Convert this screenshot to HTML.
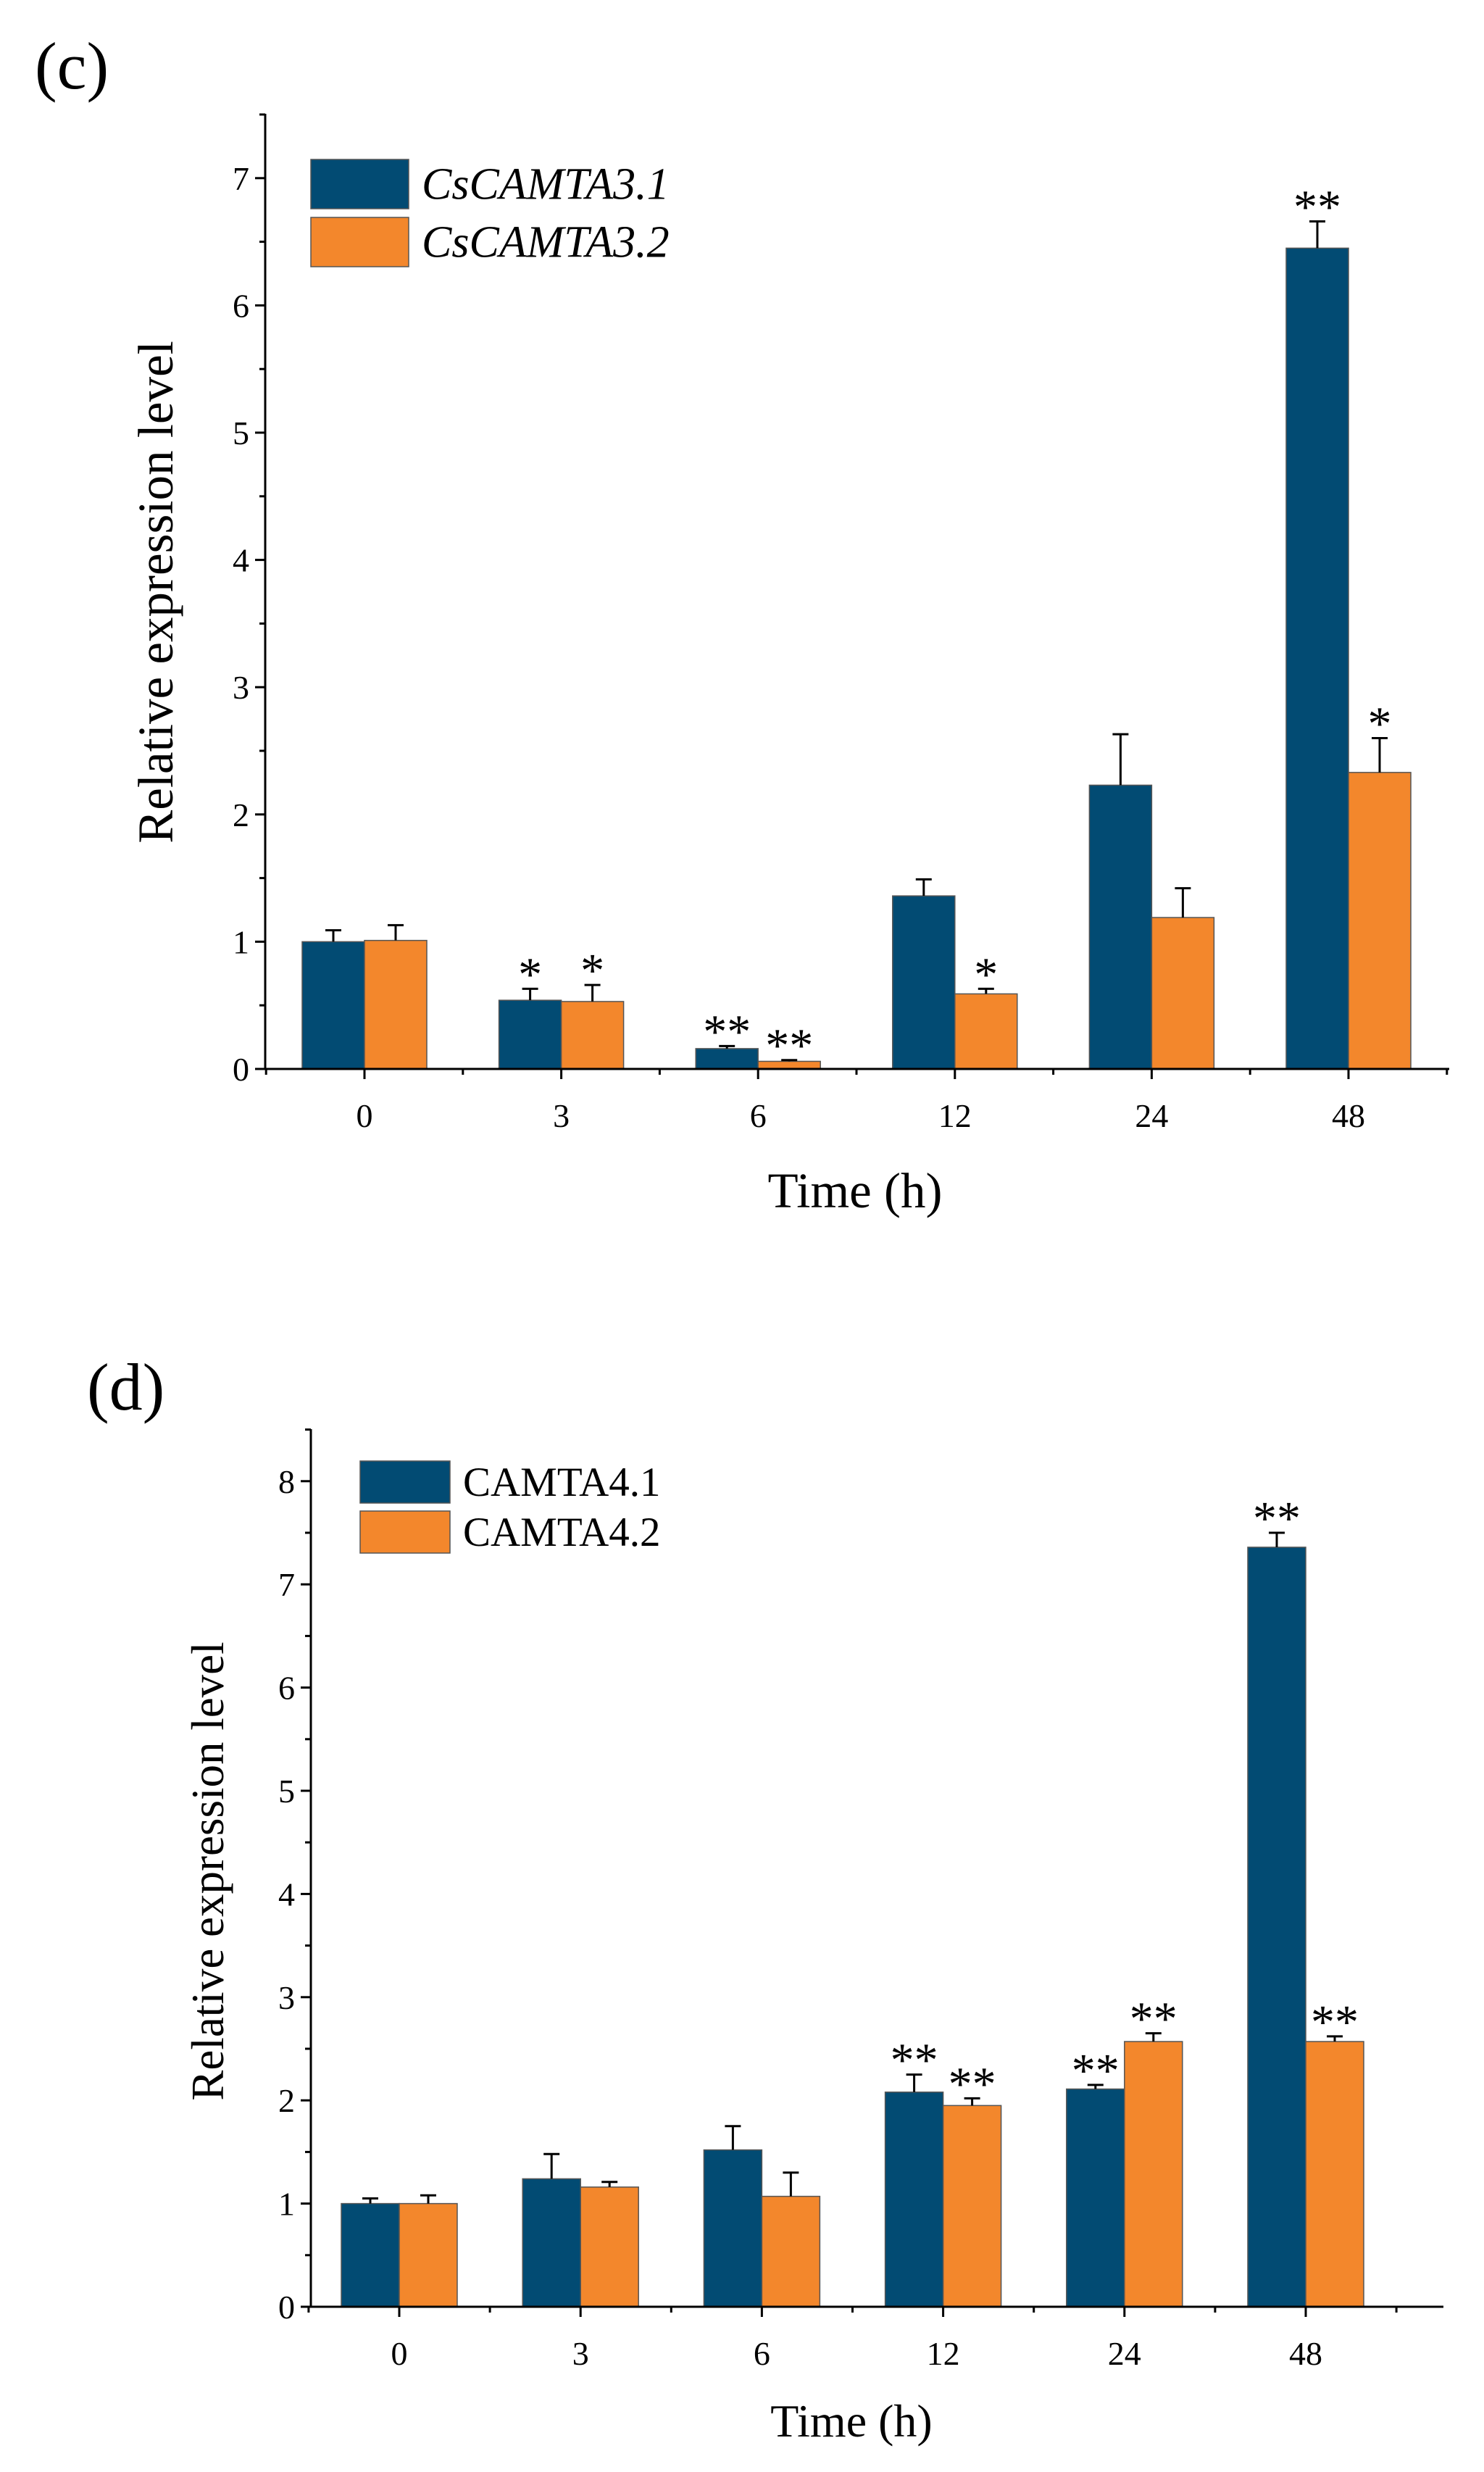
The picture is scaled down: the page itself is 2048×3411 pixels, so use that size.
<!DOCTYPE html>
<html><head><meta charset="utf-8">
<style>
html,body{margin:0;padding:0;background:#fff;}
svg{display:block;font-family:"Liberation Serif",serif;}
</style></head>
<body>
<svg id="fig" width="2048" height="3411" viewBox="0 0 2048 3411" xmlns="http://www.w3.org/2000/svg">
<text x="48" y="122" font-size="92">(c)</text>
<text x="120" y="1945" font-size="92">(d)</text>
<g id="chartC"></g>
<g id="chartD"></g>
</svg>
<script>
const categories = ["0","3","6","12","24","48"];
const c_s1 = [1.0,0.54,0.16,1.36,2.23,6.45];
const c_s1err = [0.09,0.09,0.02,0.13,0.40,0.21];
const c_s2 = [1.01,0.53,0.06,0.59,1.19,2.33];
const c_s2err = [0.12,0.13,0.01,0.04,0.23,0.27];
const c_s1sig = ["","*","**","","","**"];
const c_s2sig = ["","*","**","*","","*"];
const c_ticks = [0,1,2,3,4,5,6,7];
const d_s1 = [1.0,1.24,1.52,2.08,2.11,7.36];
const d_s1err = [0.05,0.24,0.23,0.17,0.04,0.14];
const d_s2 = [1.0,1.16,1.07,1.95,2.57,2.57];
const d_s2err = [0.08,0.05,0.23,0.07,0.08,0.05];
const d_s1sig = ["","","","**","**","**"];
const d_s2sig = ["","","","**","**","**"];
const d_ticks = [0,1,2,3,4,5,6,7,8];

const NS="http://www.w3.org/2000/svg";
function mk(parent,tag,attrs,text){
  const e=document.createElementNS(NS,tag);
  for(const k in attrs)e.setAttribute(k,attrs[k]);
  if(text!==undefined)e.textContent=text;
  parent.appendChild(e);return e;
}
const BLUE="#024b73",ORANGE="#f3872c";
function draw(g,cfg){
  const {x0,x1,y0,ytop,unit,barW,first,step,s1,s1e,s2,s2e,sig1,sig2,ticks,leg,names,italic,ytitle,xtitle,yfs,xfs,lfs}=cfg;
  const Y=v=>y0-v*unit;
  const X=i=>first+i*step;
  for(let i=0;i<categories.length;i++){
    [[s1,s1e,sig1,BLUE,-1],[s2,s2e,sig2,ORANGE,0]].forEach(([s,e,sg,col,off],k)=>{
      const bx=X(i)+off*barW;
      const r=mk(g,"rect",{x:bx,y:Y(s[i]),width:barW,height:y0-Y(s[i]),fill:col,stroke:"#555","stroke-width":1.5});
      
      
      const cx=bx+barW/2, ty=Y(s[i]+e[i]);
      const el=mk(g,"path",{d:`M${cx},${Y(s[i])}V${ty}M${cx-11},${ty}H${cx+11}`,stroke:"#000","stroke-width":3,fill:"none"});
      
      
      if(sg[i]){
        const t=mk(g,"text",{x:cx,y:ty+2,"font-size":66,"text-anchor":"middle"},sg[i]);
        
        
      }
    });
  }
  const ax=mk(g,"path",{d:`M${x0},${ytop}V${y0}H${x1}`,stroke:"#000","stroke-width":3,fill:"none"});
  
  
  ticks.forEach(t=>{
    mk(g,"line",{x1:x0-14,x2:x0,y1:Y(t),y2:Y(t),stroke:"#000","stroke-width":3});
    mk(g,"line",{x1:x0-8,x2:x0,y1:Y(t+0.5),y2:Y(t+0.5),stroke:"#000","stroke-width":3});
    const tl=mk(g,"text",{x:x0-22,y:Y(t)+16,"font-size":46,"text-anchor":"end"},t);
    
    
  });
  for(let i=0;i<categories.length;i++){
    mk(g,"line",{x1:X(i),x2:X(i),y1:y0,y2:y0+14,stroke:"#000","stroke-width":3});
    mk(g,"line",{x1:X(i)+step/2,x2:X(i)+step/2,y1:y0,y2:y0+8,stroke:"#000","stroke-width":3});
    const xl=mk(g,"text",{x:X(i),y:y0+80,"font-size":46,"text-anchor":"middle"},categories[i]);
    
    
  }
  mk(g,"line",{x1:X(0)-step/2,x2:X(0)-step/2,y1:y0,y2:y0+8,stroke:"#000","stroke-width":3});
  const xt=mk(g,"text",{x:xtitle[0],y:xtitle[1],"font-size":xfs,"text-anchor":"middle"},"Time (h)");
  
  
  const yt=mk(g,"text",{x:0,y:0,"font-size":yfs,"text-anchor":"middle",transform:`translate(${ytitle[0]},${ytitle[1]}) rotate(-90)`},"Relative expression level");
  
  
  [[BLUE,names[0]],[ORANGE,names[1]]].forEach(([c,n],k)=>{
    const ly=leg.y+k*leg.dy;
    const lr=mk(g,"rect",{x:leg.x,y:ly,width:leg.w,height:leg.h,fill:c,stroke:"#555","stroke-width":1.5});
    
    
    const lt=mk(g,"text",{x:leg.x+leg.w+18,y:ly+leg.h/2+lfs*0.33,"font-size":lfs,"font-style":italic?"italic":"normal"},n);
    
    
  });
}
draw(document.getElementById('chartC'),{x0:366,x1:2000,y0:1475,ytop:157,unit:175.6,barW:86,first:503,step:271.6,
  s1:c_s1,s1e:c_s1err,s2:c_s2,s2e:c_s2err,sig1:c_s1sig,sig2:c_s2sig,ticks:c_ticks,
  leg:{x:429,y:220,dy:80,w:135,h:68},names:["CsCAMTA3.1","CsCAMTA3.2"],italic:true,
  ytitle:[238,817],xtitle:[1180,1666],yfs:69,xfs:69,lfs:62});
draw(document.getElementById('chartD'),{x0:429,x1:1992,y0:3183,ytop:1972,unit:142.4,barW:80,first:551,step:250.2,
  s1:d_s1,s1e:d_s1err,s2:d_s2,s2e:d_s2err,sig1:d_s1sig,sig2:d_s2sig,ticks:d_ticks,
  leg:{x:497,y:2016,dy:69,w:124,h:58},names:["CAMTA4.1","CAMTA4.2"],italic:false,
  ytitle:[308,2582],xtitle:[1175,3362],yfs:63,xfs:64,lfs:57});
</script>
</body></html>
